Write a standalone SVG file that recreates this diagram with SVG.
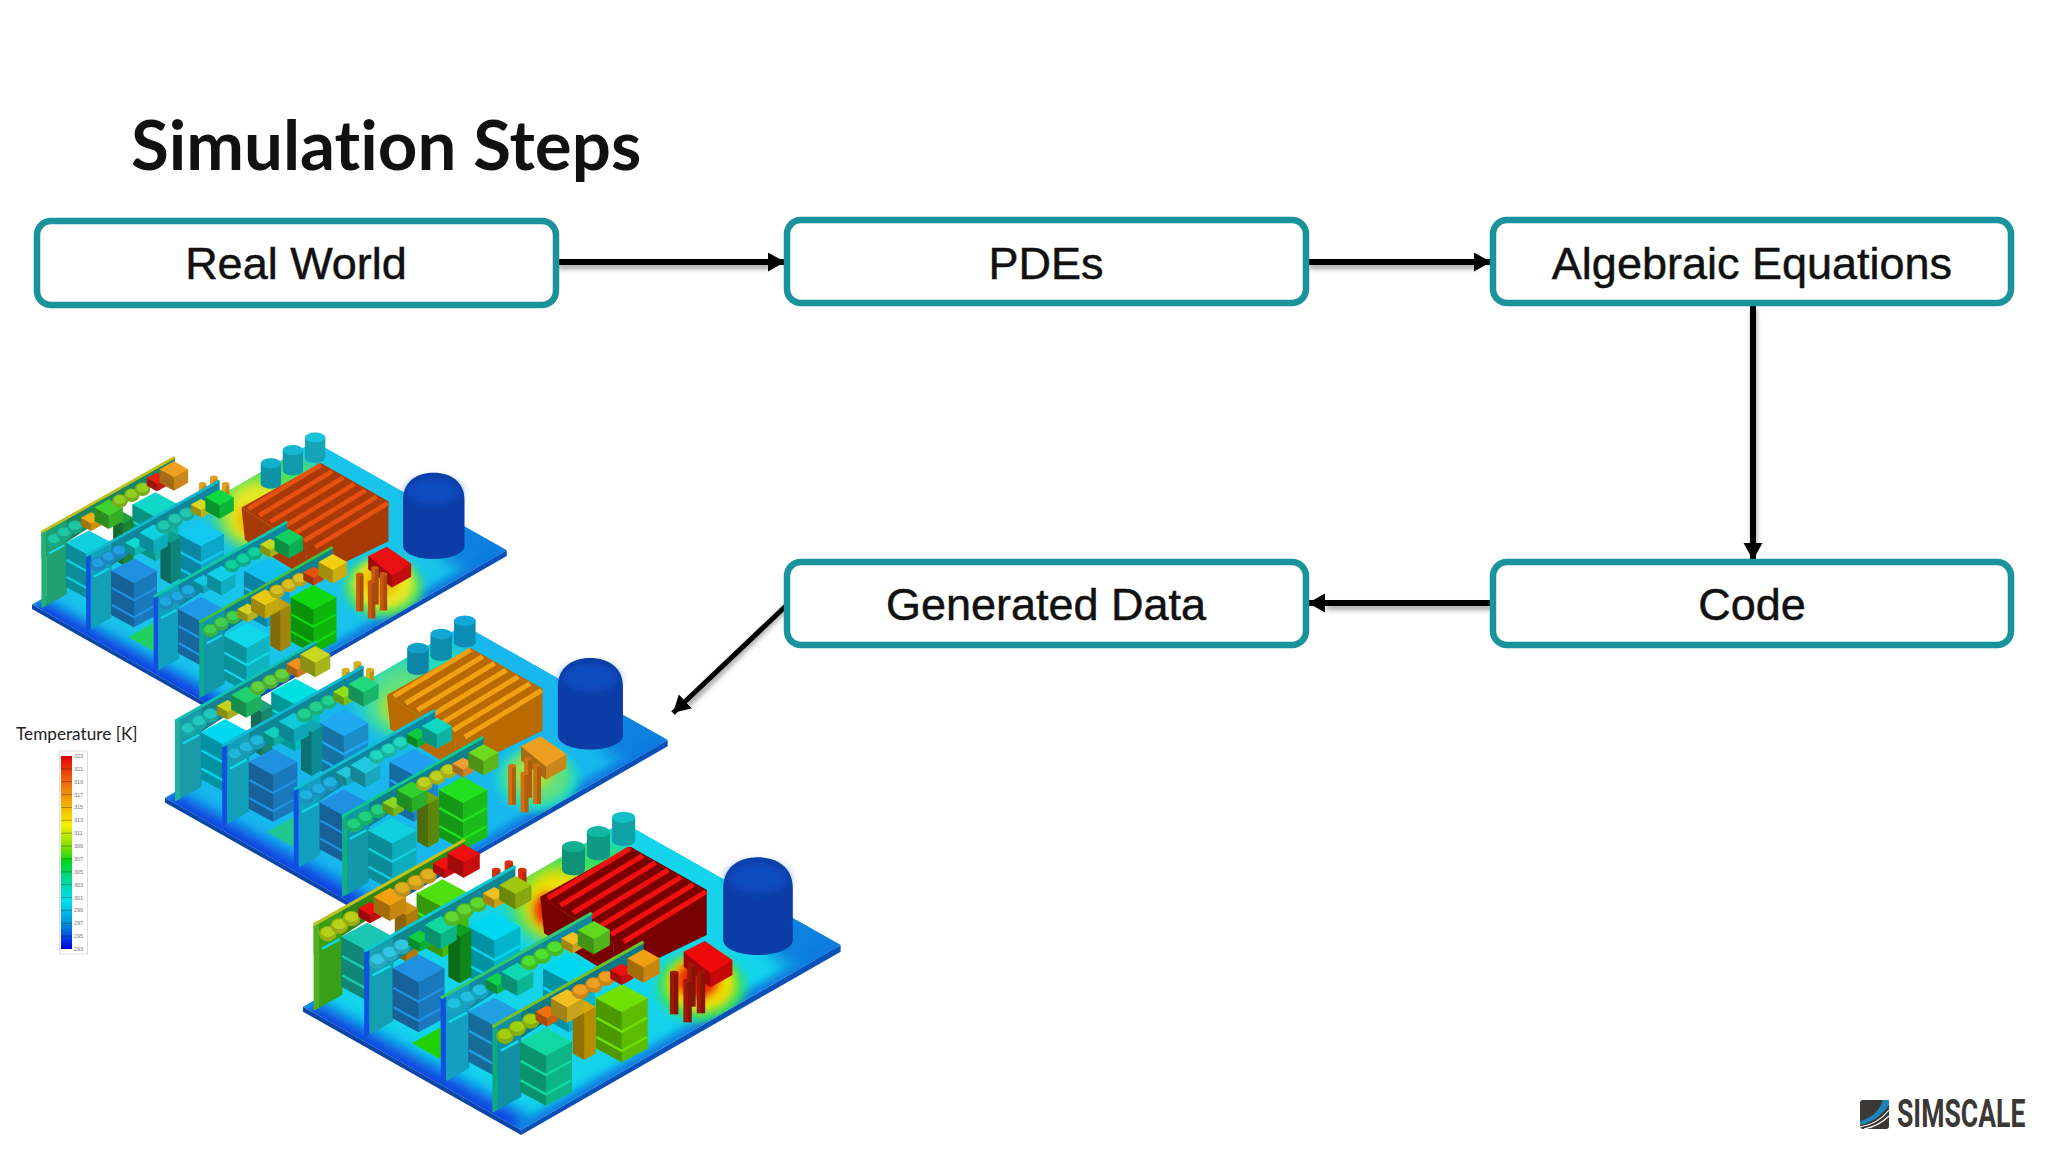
<svg xmlns="http://www.w3.org/2000/svg" width="2048" height="1152" viewBox="0 0 2048 1152">
<style>
.box{fill:#fff;stroke:#1a939c;stroke-width:6.5}
.lbl{font-family:"Liberation Sans",Arial,sans-serif;font-size:45px;fill:#111;stroke:#111;stroke-width:.5;text-anchor:middle}
.con{fill:none;stroke:#000;stroke-width:6;marker-end:url(#ah)}
.k1{fill:#000;opacity:.32}
.k2{fill:#000;opacity:.16}
.c{fill:currentColor}
.leg{font-family:"Liberation Sans",Arial,sans-serif;font-size:5.5px;fill:#777}
.b1{--ta:#c0c020;--tb:#10b8d0;--tc:#10c8a0;--td:#40c040;--p:#18c4ea;--h1:#f0c000;--h2:#e8e820;--h3:#50e060;--hs:#e8500f;--hd:#a83a08;--cn:#e81010;--pn:#c85a10;--sp:#e0a020;--cy:#12b0c8;--cy2:#14b8d0;--cy3:#18c4d8;--pa:#20d060;
--ae:#20b070;--ap:#20a070;--ab:#20c8a0;--as:#10d0e0;--ak:#10d8c8;--at:#20a040;--ac:#f0b010;--ax:#40d030;--a2:#90d020;--ad:#e82010;--ay:#f0a020;
--be:#1050e0;--bp:#12a0b8;--bb:#20a0e0;--bs:#2090e0;--bz:#10c8f0;--bt:#10a090;--bc:#10d8d0;--bx:#10d0e0;--b2:#20c8b0;--bd:#d8d820;--by:#10d840;
--ce:#1050e0;--cp:#12a0c0;--cb:#20a8e0;--cs:#2098e8;--cz:#10c0f0;--cc:#10c8e0;--cx:#10d0e8;--c2:#10d0a0;--cd:#c0d820;--cq:#10d060;
--de:#10a890;--dp:#1098a8;--db:#40d050;--ds:#10d8e8;--dz:#10d810;--dt:#c0a010;--dc:#d8d020;--dx:#e8c810;--d2:#d8c020;--dd:#e85010;--dy:#f0d010}
.b2{--ta:#10c0b0;--tb:#10b8d0;--tc:#10c0d0;--td:#10c890;--p:#18b8ee;--h1:#a0e040;--h2:#60e080;--h3:#20d8c0;--hs:#f0a010;--hd:#b86a00;--cn:#f0a020;--pn:#d07010;--sp:#d8b020;--cy:#10a0c8;--cy2:#10a8d0;--cy3:#10a8d8;--pa:#20c890;
--ae:#20b0a0;--ap:#1a9aa8;--ab:#20c8c0;--as:#00d8f0;--ak:#00e0e0;--at:#20a080;--ac:#c8d020;--ax:#20d070;--a2:#60d040;--ad:#f09020;--ay:#c8d820;
--be:#1050e0;--bp:#12a0b8;--bb:#20b8d8;--bs:#2090e0;--bz:#20a8f0;--bt:#10a8b0;--bc:#10d0c0;--bx:#10c8d8;--b2:#20d090;--bd:#90e020;--by:#20d880;
--ce:#1050e0;--cp:#12a0c0;--cb:#20b0e0;--cs:#2090e0;--cz:#20a0f0;--cc:#20c8d8;--cx:#20c8e0;--c2:#20d8c0;--cd:#10c840;--cq:#10d8c0;
--de:#10b080;--dp:#1098a8;--db:#20d080;--ds:#10d0e0;--dz:#20e020;--dt:#70a010;--dc:#90d820;--dx:#30d030;--d2:#c0d020;--dd:#f0a030;--dy:#70d820}
.b3{--ta:#c0c020;--tb:#10c8d0;--tc:#30c870;--td:#70c030;--p:#14d4ec;--h1:#f02000;--h2:#f0e000;--h3:#30e060;--hs:#f01010;--hd:#780000;--cn:#ee0a0a;--pn:#a01808;--sp:#d83010;--cy:#12b090;--cy2:#12b8a0;--cy3:#14c0c8;--pa:#20d000;
--ae:#50b020;--ap:#38a018;--ab:#b8d018;--as:#18c8b0;--ak:#50e010;--at:#d09410;--ac:#e81010;--ax:#f0a010;--a2:#e0b020;--ad:#f01010;--ay:#f01010;
--be:#1050e0;--bp:#14a0b0;--bb:#30c8e0;--bs:#2090e0;--bz:#00d8f0;--bt:#10a020;--bc:#10d040;--bx:#10d8a0;--b2:#60d830;--bd:#f0c020;--by:#a0c810;
--ce:#1050e0;--cp:#14a0c0;--cb:#20c0e0;--cs:#20a0e0;--cz:#00d8f0;--cc:#10d050;--cx:#10d8b0;--c2:#50e030;--cd:#f0c020;--cq:#60d820;
--de:#10a880;--dp:#1090a0;--db:#a0d010;--ds:#10d8a0;--dz:#70e000;--dt:#d8a800;--dc:#f07010;--dx:#f0c020;--d2:#f0a020;--dd:#f01010;--dy:#f0a010}
</style>
<defs>
<marker id="ah" markerUnits="userSpaceOnUse" markerWidth="20" markerHeight="20" refX="17" refY="9.5" orient="auto"><polygon points="0,0 17,9.5 0,19" fill="#000"/></marker>
<filter id="sh" x="-10%" y="-10%" width="120%" height="120%"><feGaussianBlur stdDeviation="2.5"/></filter>
<filter id="bl1" x="-50%" y="-50%" width="200%" height="200%"><feGaussianBlur stdDeviation="22"/></filter>
<filter id="bl2" x="-50%" y="-50%" width="200%" height="200%"><feGaussianBlur stdDeviation="12"/></filter>
<linearGradient id="lg" x1="0" y1="0" x2="0" y2="1">
<stop offset="0" stop-color="#e00000"/><stop offset=".12" stop-color="#f06010"/><stop offset=".25" stop-color="#f0b000"/><stop offset=".36" stop-color="#f8f000"/><stop offset=".48" stop-color="#70e000"/><stop offset=".55" stop-color="#00d820"/><stop offset=".65" stop-color="#00d8a0"/><stop offset=".75" stop-color="#00e0f0"/><stop offset=".87" stop-color="#0090e0"/><stop offset="1" stop-color="#0000e0"/>
</linearGradient>
<clipPath id="pc"><polygon points="60,680 895,125 1465,495 630,1050"/></clipPath>
<g id="ball"><circle r="23" cy="3" class="c"/><circle r="23" cy="3" class="k2"/><ellipse rx="18" ry="15" cy="-2" class="c"/></g>
<g id="cube"><polygon class="c" points="-30,0 0,-19 30,0 30,26 0,45 -30,26"/><polygon class="k1" points="-30,0 0,19 0,45 -30,26"/><polygon class="k2" points="30,0 0,19 0,45 30,26"/></g>
<g id="bigc"><polygon class="c" points="-42,0 0,-27 42,0 42,46 0,73 -42,46"/><polygon class="k1" points="-42,0 0,27 0,73 -42,46"/><polygon class="k2" points="42,0 0,27 0,73 42,46"/></g>
<g id="tall"><polygon class="c" points="-30,0 0,-20 30,0 30,140 0,160 -30,140"/><polygon class="k1" points="-30,0 0,20 0,160 -30,140"/><polygon class="k2" points="30,0 0,20 0,160 30,140"/></g>
<g id="stk"><polygon class="c" points="-68,0 0,-42 68,0 68,150 0,192 -68,150"/><polygon class="k1" points="-68,0 0,42 0,192 -68,150"/><polygon class="k2" points="68,0 0,42 0,192 68,150"/><path d="M-66 58L0 100L66 58M-66 116L0 158L66 116" fill="none" stroke="currentColor" stroke-width="7"/></g>
<g id="card"><polygon class="c" points="0,0 395,-255 395,-215 200,-60 0,90"/><polygon class="k2" points="0,0 395,-255 395,-215 200,-60 0,90"/><polygon fill="var(--e)" points="0,0 14,-8 14,250 0,258"/><polygon class="c" points="14,-8 75,-47 75,210 14,250"/><path d="M22 72L68 44" stroke="#10d8e8" stroke-width="7"/><path d="M0 0L395 -255" stroke="var(--t)" stroke-width="9"/></g>
<g id="pin"><rect x="-11" y="0" width="22" height="125" class="c"/><rect x="0" y="0" width="11" height="125" class="k2"/><ellipse rx="11" ry="6" class="c"/></g>
<g id="spin"><rect x="-11" y="0" width="22" height="40" class="c"/><rect x="0" y="0" width="11" height="40" class="k2"/><ellipse rx="11" ry="7" class="c"/></g>
<g id="cyl"><rect x="-30" y="0" width="60" height="70" class="c"/><rect x="-30" y="0" width="60" height="70" class="k2"/><ellipse cy="70" rx="30" ry="16" class="c"/><ellipse cy="70" rx="30" ry="16" class="k2"/><ellipse rx="30" ry="17" class="c"/></g>
<g id="board">
<polygon points="60,680 630,1050 630,1065 60,695" fill="#0b45a8"/>
<polygon points="630,1050 1465,495 1465,515 630,1065" fill="#0a50b8"/>
<g clip-path="url(#pc)">
<polygon points="60,680 895,125 1465,495 630,1050" style="fill:var(--p)"/>
<ellipse cx="1380" cy="480" rx="110" ry="90" fill="#1080e0" filter="url(#bl1)"/>
<path d="M60 690L630 1050" stroke="#0a40e0" stroke-width="80" fill="none" filter="url(#bl1)"/>
<path d="M630 1050L1465 495" stroke="#0a78e0" stroke-width="40" fill="none" filter="url(#bl2)"/>
<ellipse cx="780" cy="340" rx="190" ry="165" filter="url(#bl1)" style="fill:var(--h3)"/>
<ellipse cx="730" cy="370" rx="100" ry="110" filter="url(#bl1)" style="fill:var(--h2)"/>
<ellipse cx="700" cy="390" rx="35" ry="50" filter="url(#bl2)" style="fill:var(--h1)"/>
<ellipse cx="1100" cy="620" rx="115" ry="105" filter="url(#bl2)" style="fill:var(--h3)"/>
<ellipse cx="1100" cy="610" rx="90" ry="85" filter="url(#bl2)" style="fill:var(--h2)"/>
<ellipse cx="1090" cy="600" rx="55" ry="55" filter="url(#bl2)" style="fill:var(--h1)"/>
<polygon points="345,790 420,742 420,838" style="fill:var(--pa)"/>
</g>
<use href="#cyl" x="767" y="200" style="color:var(--cy)"/>
<use href="#cyl" x="832" y="155" style="color:var(--cy2)"/>
<use href="#cyl" x="898" y="112" style="color:var(--cy3)"/>
<path d="M1158 325C1158 265 1195 232 1248 232C1302 232 1340 265 1340 325V480C1340 505 1300 525 1248 525C1196 525 1158 505 1158 480Z" fill="#0c3ca6"/>
<ellipse cx="1248" cy="295" rx="80" ry="45" fill="#0f4cc0" filter="url(#bl2)"/>
<polygon points="680,350 870,490 880,595 690,460" style="fill:var(--hd)"/>
<polygon points="915,200 1115,330 1115,465 880,595 870,490" style="fill:var(--hd)"/>
<polygon points="915,200 1115,330 870,490 680,350" style="fill:var(--hd)"/>
<path d="M915 205l-215 150m248 -128.300l-215 150m248 -128.300l-215 150m248 -128.300l-215 150m248 -128.300l-215 150m248 -128.300l-215 150m248 -128.300l-215 150" fill="none" stroke-width="15" style="stroke:var(--hs)"/>
<g style="color:var(--cn)"><polygon class="c" points="1055,515 1110,483 1182,540 1182,585 1125,622 1055,560"/><polygon class="k1" points="1055,515 1125,580 1125,622 1055,560"/><polygon class="k2" points="1125,580 1182,540 1182,585 1125,622"/></g>
<g style="color:var(--pn)"><use href="#pin" x="1075" y="555"/><use href="#pin" x="1100" y="575"/><use href="#pin" x="1030" y="578"/><use href="#pin" x="1065" y="602"/></g>
<use href="#card" x="88" y="434" style="color:var(--ap);--e:var(--ae);--t:var(--ta)"/>
<use href="#stk" x="425" y="340" style="color:var(--ak)"/>
<use href="#tall" x="330" y="385" style="color:var(--at)"/>
<g style="color:var(--ab)"><use href="#ball" x="125" y="458"/><use href="#ball" x="155" y="435"/><use href="#ball" x="187" y="413"/></g>
<use href="#stk" x="228" y="470" style="color:var(--as)"/>
<use href="#cube" x="235" y="385" style="color:var(--ac)"/>
<use href="#bigc" x="287" y="350" style="color:var(--ax)"/>
<g style="color:var(--a2)"><use href="#ball" x="320" y="325"/><use href="#ball" x="355" y="305"/><use href="#ball" x="387" y="285"/></g>
<use href="#cube" x="430" y="250" style="color:var(--ad)"/>
<use href="#bigc" x="480" y="220" style="color:var(--ay)"/>
<g style="color:var(--sp)"><use href="#spin" x="565" y="270"/><use href="#spin" x="598" y="248"/><use href="#spin" x="633" y="270"/></g>
<use href="#card" x="220" y="514" style="color:var(--bp);--e:var(--be);--t:var(--tb)"/>
<use href="#stk" x="560" y="440" style="color:var(--bz)"/>
<use href="#tall" x="470" y="450" style="color:var(--bt)"/>
<g style="color:var(--bb)"><use href="#ball" x="255" y="540"/><use href="#ball" x="287" y="518"/><use href="#ball" x="318" y="497"/></g>
<use href="#stk" x="362" y="565" style="color:var(--bs)"/>
<use href="#cube" x="365" y="470" style="color:var(--bc)"/>
<use href="#bigc" x="420" y="435" style="color:var(--bx)"/>
<g style="color:var(--b2)"><use href="#ball" x="450" y="412"/><use href="#ball" x="483" y="390"/><use href="#ball" x="517" y="370"/></g>
<use href="#cube" x="560" y="340" style="color:var(--bd)"/>
<use href="#bigc" x="615" y="315" style="color:var(--by)"/>
<use href="#card" x="420" y="654" style="color:var(--cp);--e:var(--ce);--t:var(--tc)"/>
<use href="#stk" x="755" y="565" style="color:var(--cz)"/>
<use href="#stk" x="560" y="695" style="color:var(--cs)"/>
<g style="color:var(--cb)"><use href="#ball" x="455" y="672"/><use href="#ball" x="490" y="652"/><use href="#ball" x="522" y="632"/></g>
<use href="#cube" x="567" y="598" style="color:var(--cc)"/>
<use href="#bigc" x="620" y="575" style="color:var(--cx)"/>
<g style="color:var(--c2)"><use href="#ball" x="652" y="545"/><use href="#ball" x="685" y="525"/><use href="#ball" x="718" y="503"/></g>
<use href="#cube" x="765" y="475" style="color:var(--cd)"/>
<use href="#bigc" x="820" y="450" style="color:var(--cq)"/>
<use href="#card" x="555" y="740" style="color:var(--dp);--e:var(--de);--t:var(--td)"/>
<use href="#stk" x="893" y="655" style="color:var(--dz)"/>
<use href="#tall" x="795" y="680" style="color:var(--dt)"/>
<use href="#stk" x="695" y="785" style="color:var(--ds)"/>
<g style="color:var(--db)"><use href="#ball" x="588" y="765"/><use href="#ball" x="620" y="742"/><use href="#ball" x="655" y="720"/></g>
<use href="#cube" x="698" y="695" style="color:var(--dc)"/>
<use href="#bigc" x="750" y="655" style="color:var(--dx)"/>
<g style="color:var(--d2)"><use href="#ball" x="785" y="632"/><use href="#ball" x="820" y="612"/><use href="#ball" x="852" y="592"/></g>
<use href="#cube" x="893" y="570" style="color:var(--dd)"/>
<use href="#bigc" x="950" y="535" style="color:var(--dy)"/>
</g>
</defs>
<rect width="2048" height="1152" fill="#fff"/>
<text x="131" y="170" font-family="Lato,sans-serif" font-weight="700" font-size="69" fill="#111" style="font-variant-ligatures:none">Simulation Steps</text>
<g id="boards">
<use href="#board" class="b1" transform="matrix(.3379 0 0 .2943 11.740 404.500)"/>
<use href="#board" class="b2" transform="matrix(.3578 0 0 .3117 143.500 585.800)"/>
<use href="#board" class="b3" transform="matrix(.3827 0 0 .3333 280 780)"/>
</g>
<g id="legend">
<text x="16" y="740" font-family="Lato,sans-serif" font-size="17.200" fill="#222" style="font-variant-ligatures:none">Temperature [K]</text>
<rect x="59.500" y="751" width="28" height="203" fill="#fff" stroke="#ddd" stroke-width="1"/>
<rect x="61" y="756" width="11" height="193" fill="url(#lg)"/>
<path d="M61 768.900h11M61 781.700h11M61 794.600h11M61 807.500h11M61 820.300h11M61 833.200h11M61 846.100h11M61 858.900h11M61 871.800h11M61 884.700h11M61 897.500h11M61 910.400h11M61 923.300h11M61 936.100h11" stroke="#000" stroke-opacity=".3" stroke-width="1"/>
<g class="leg"><text x="74" y="758">323</text><text x="74" y="771">321</text><text x="74" y="784">319</text><text x="74" y="797">317</text><text x="74" y="809">315</text><text x="74" y="822">313</text><text x="74" y="835">311</text><text x="74" y="848">309</text><text x="74" y="861">307</text><text x="74" y="874">305</text><text x="74" y="887">303</text><text x="74" y="900">301</text><text x="74" y="912">299</text><text x="74" y="925">297</text><text x="74" y="938">295</text><text x="74" y="951">293</text></g>
</g>
<g id="connectors">
<g filter="url(#sh)" opacity=".35" transform="translate(1 4)" stroke="#000" stroke-width="6" fill="none"><path d="M557 262H770M1308 262H1476M1753 305V545M1491 603H1325M786 603L684 703"/></g>
<path class="con" d="M557 262H785"/>
<path class="con" d="M1308 262H1491"/>
<path class="con" d="M1753 304V560"/>
<path class="con" d="M1491 603H1308"/>
<path class="con" d="M788 604L673 713" style="stroke-width:5"/>
</g>
<g id="node-real-world"><rect class="box" x="37" y="221" width="519" height="84" rx="14"/><text class="lbl" x="296" y="279">Real World</text></g>
<g id="node-pdes"><rect class="box" x="787" y="220" width="519" height="83" rx="14"/><text class="lbl" x="1046" y="279">PDEs</text></g>
<g id="node-algebraic"><rect class="box" x="1493" y="220" width="518" height="83" rx="14"/><text class="lbl" x="1752" y="279">Algebraic Equations</text></g>
<g id="node-generated"><rect class="box" x="787" y="562" width="519" height="83" rx="14"/><text class="lbl" x="1046" y="620">Generated Data</text></g>
<g id="node-code"><rect class="box" x="1493" y="562" width="518" height="83" rx="14"/><text class="lbl" x="1752" y="620">Code</text></g>
<g id="logo">
<rect x="1860" y="1100" width="29" height="29" rx="3" fill="#3b3835"/>
<path d="M1860 1121C1872 1118 1880 1110 1883 1100H1889V1105C1882 1115 1872 1123 1860 1125Z" fill="#1a86b8"/>
<path d="M1860 1127C1872 1125 1882 1119 1889 1110M1864 1129C1874 1127 1883 1122 1889 1116" stroke="#fff" stroke-width="1.200" fill="none"/>
<text transform="translate(1897 1127) scale(.7 1)" font-family="Roboto,sans-serif" font-weight="700" font-size="38" fill="#3b3835">SIMSCALE</text>
</g>
</svg>
